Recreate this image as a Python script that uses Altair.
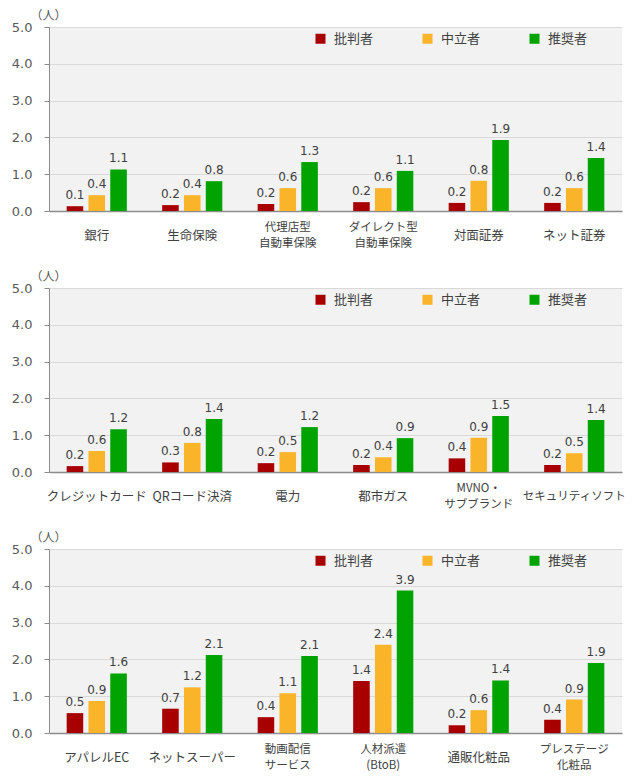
import altair as alt
import pandas as pd

series = ["批判者", "中立者", "推奨者"]
colors = ["#A80000", "#F9B42A", "#00A300"]

cats1 = ["銀行", "生命保険", "代理店型\n自動車保険", "ダイレクト型\n自動車保険", "対面証券", "ネット証券"]
crit1 = [0.13, 0.16, 0.19, 0.24, 0.22, 0.22]
neut1 = [0.43, 0.43, 0.62, 0.62, 0.82, 0.62]
prom1 = [1.13, 0.81, 1.33, 1.09, 1.93, 1.44]

cats2 = ["クレジットカード", "QRコード決済", "電力", "都市ガス", "MVNO・\nサブブランド", "セキュリティソフト"]
crit2 = [0.16, 0.26, 0.24, 0.19, 0.37, 0.19]
neut2 = [0.57, 0.79, 0.54, 0.40, 0.93, 0.51]
prom2 = [1.16, 1.44, 1.22, 0.92, 1.52, 1.41]

cats3 = ["アパレルEC", "ネットスーパー", "動画配信\nサービス", "人材派遣\n(BtoB)", "通販化粧品", "プレステージ\n化粧品"]
crit3 = [0.54, 0.66, 0.43, 1.41, 0.21, 0.36]
neut3 = [0.87, 1.24, 1.08, 2.40, 0.62, 0.91]
prom3 = [1.62, 2.12, 2.09, 3.87, 1.43, 1.90]

y_ticks = [0, 1, 2, 3, 4, 5]

FONT = "DejaVu Sans, Noto Sans CJK JP, sans-serif"
CJK = "Noto Sans CJK JP, sans-serif"


def panel(cats, crit, neut, prom):
    rows = []
    for i, c in enumerate(cats):
        for s, v in zip(series, (crit[i], neut[i], prom[i])):
            rows.append({"cat": c, "series": s, "value": v})
    df = pd.DataFrame(rows)
    base = alt.Chart(df).encode(
        x=alt.X(
            "cat:N",
            sort=cats,
            title=None,
            scale=alt.Scale(paddingInner=0.37, paddingOuter=0.185),
            axis=alt.Axis(
                labelExpr="split(datum.label, '\\n')",
                labelAngle=0,
                labelFont=CJK,
                labelFontSize={"condition": {"test": "length(datum.value) > 8", "value": 11.5}, "value": 12.5},
                labelColor="#404040",
                labelLineHeight=16,
                labelBaseline="top",
                labelPadding={"condition": {"test": "indexof(datum.value, '\\n') >= 0", "value": 10}, "value": 18},
                ticks=False,
                grid=False,
                domainColor="#8c8c8c",
                domainWidth=1.5,
                labelLimit=200,
            ),
        ),
        xOffset=alt.XOffset("series:N", sort=series, scale=alt.Scale(paddingInner=0.24)),
        y=alt.Y(
            "value:Q",
            scale=alt.Scale(domain=[0, 5], nice=False),
            axis=alt.Axis(
                values=y_ticks,
                format=".1f",
                title="（人）",
                titleAngle=0,
                titleX=-19,
                titleY=-12,
                titleAlign="left",
                titleBaseline="middle",
                titleFont=CJK,
                titleFontSize=12,
                titleFontWeight="normal",
                titleColor="#595959",
                labelFont=FONT,
                labelFontSize=13,
                labelColor="#595959",
                labelPadding=12,
                tickSize=5,
                tickColor="#8c8c8c",
                domainColor="#8c8c8c",
                gridColor="#d9d9d9",
            ),
        ),
    )
    bars = base.mark_bar().encode(
        color=alt.Color(
            "series:N",
            sort=series,
            scale=alt.Scale(domain=series, range=colors),
            legend=alt.Legend(
                title=None,
                orient="none",
                legendX=265,
                legendY=5,
                direction="horizontal",
                symbolType="square",
                symbolSize=100,
                symbolStrokeWidth=0,
                symbolOpacity=1,
                labelFont=CJK,
                labelFontSize=13,
                labelColor="#404040",
                labelOffset=7,
                columnPadding=47,
                padding=0,
            ),
        )
    )
    text = base.mark_text(baseline="alphabetic", dy=-7, font=FONT, fontSize=12, color="#404040").encode(
        text=alt.Text("value:Q", format=".1f")
    )
    return alt.layer(bars, text).properties(width=573, height=184)


chart = (
    alt.vconcat(
        panel(cats1, crit1, neut1, prom1),
        panel(cats2, crit2, neut2, prom2),
        panel(cats3, crit3, neut3, prom3),
        spacing=77,
        bounds="flush",
    )
    .resolve_legend(color="independent")
    .properties(padding={"left": 3, "top": 1, "right": 0, "bottom": 0}, background="white")
    .configure_view(fill="#f2f2f2", stroke=None)
)

chart.save("out.html", embed_options={"renderer": "svg", "actions": False})
